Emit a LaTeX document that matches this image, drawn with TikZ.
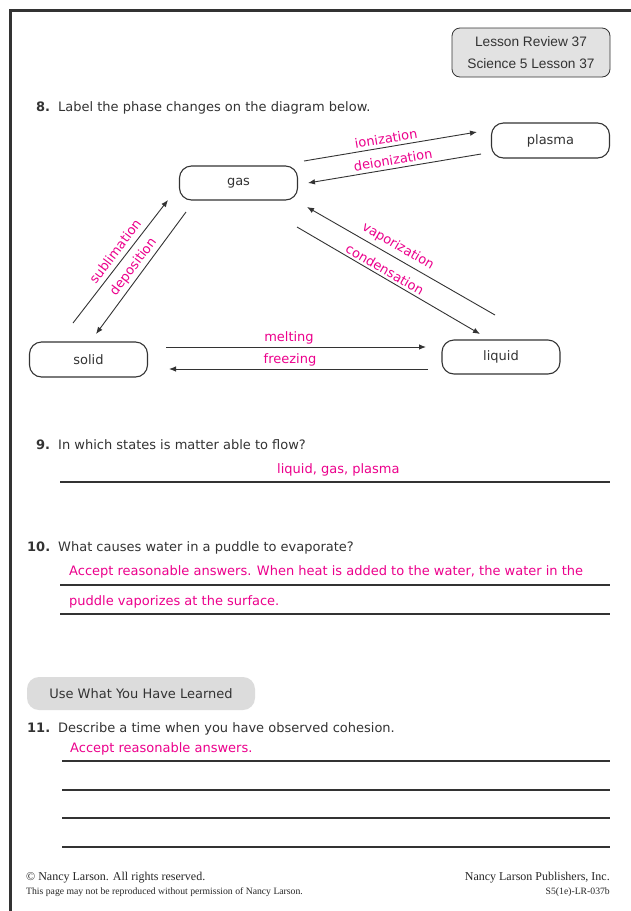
\documentclass[tikz,border=0pt]{standalone}
\usepackage{fontspec}
\setmainfont{DejaVu Sans}
\newfontfamily\arialf{Liberation Sans}
\newfontfamily\timesf{Liberation Serif}
\usetikzlibrary{arrows.meta}
\definecolor{ink}{HTML}{333333}
\definecolor{pinkans}{HTML}{EC008C}
\definecolor{boxgray}{HTML}{E2E2E2}
\definecolor{pillgray}{HTML}{DCDCDC}
\newcommand{\bodyfont}{\fontsize{13}{15}\selectfont}
\begin{document}
\begin{tikzpicture}[x=1pt,y=-1pt,
  state/.style={draw=ink, line width=1.1pt, rounded corners=12pt, minimum width=118pt, minimum height=34pt, text=ink, font=\bodyfont, inner sep=0pt},
  lbl/.style={text=pinkans, font=\bodyfont, inner sep=0pt},
  txt/.style={text=ink, font=\bodyfont, anchor=mid west, inner sep=0pt},
  num/.style={text=ink, font=\bodyfont\bfseries, anchor=mid west, inner sep=0pt},
  ans/.style={text=pinkans, font=\bodyfont, anchor=mid west, inner sep=0pt},
  rule/.style={draw=ink, line width=1.2pt},
  conn/.style={draw=ink, line width=0.9pt, -{Latex[length=7pt,width=5.5pt]}},
  foot/.style={text=black!85, inner sep=0pt},
]
\useasboundingbox (0,0) rectangle (630,911);
\fill[white] (0,0) rectangle (630,911);

% page frame
\draw[ink, line width=3pt] (10,911) -- (10,10) -- (631,10);

% header box
\node[draw=ink, line width=0.8pt, fill=boxgray, rounded corners=8pt, minimum width=158pt, minimum height=49pt, align=center, inner sep=0pt, font=\arialf\fontsize{13.7}{22}\selectfont, text=ink] (hdr) at (531,52.5) {Lesson Review 37\\Science 5 Lesson 37};

% question 8
\node[num] (n8) at (36,109) {8.};
\node[txt] (q8) at (58,109) {Label the phase changes on the diagram below.};

% states
\node[state, minimum height=35pt] (plasma) at (550.5,140.5) {plasma};
\node[state] (gas) at (238.5,183) {gas};
\node[state, minimum height=35pt] (solid) at (88.5,359.5) {solid};
\node[state] (liquid) at (501,357) {liquid};

% connector endpoints
\coordinate (ionA) at (304,161);   \coordinate (ionB) at (477,132);
\coordinate (deiA) at (481,154);   \coordinate (deiB) at (308,183);
\coordinate (subA) at (73,323);    \coordinate (subB) at (168,200);
\coordinate (depA) at (186,212);   \coordinate (depB) at (96,334);
\coordinate (vapA) at (495,315);   \coordinate (vapB) at (307,207);
\coordinate (conA) at (297,227);   \coordinate (conB) at (480,334);
\coordinate (melA) at (166,347);   \coordinate (melB) at (426,347);
\coordinate (freA) at (428,369);   \coordinate (freB) at (169,369);

\draw[conn] (ionA) -- (ionB);
\draw[conn] (deiA) -- (deiB);
\draw[conn] (subA) -- (subB);
\draw[conn] (depA) -- (depB);
\draw[conn] (vapA) -- (vapB);
\draw[conn] (conA) -- (conB);
\draw[conn] (melA) -- (melB);
\draw[conn] (freA) -- (freB);

% labels
\node[lbl, rotate=9.5] (lion) at (386,138.5) {ionization};
\node[lbl, rotate=9.5] (ldei) at (393,160) {deionization};
\node[lbl, rotate=53] (lsub) at (115,251.5) {sublimation};
\node[lbl, rotate=53] (ldep) at (133.5,267) {deposition};
\node[lbl, rotate=-30] (lvap) at (398,246.5) {vaporization};
\node[lbl, rotate=-30] (lcon) at (385,269.5) {condensation};
\node[lbl] (lmel) at (289,338) {melting};
\node[lbl] (lfre) at (290,360) {freezing};

% question 9
\node[num] (n9) at (36,447) {9.};
\node[txt] (q9) at (58,447) {In which states is matter able to flow?};
\node[ans] (a9) at (277,471) {liquid, gas, plasma};
\coordinate (r9a) at (60,482); \coordinate (r9b) at (610,482);
\draw[rule] (r9a) -- (r9b);

% question 10
\node[num] (n10) at (27,549) {10.};
\node[txt] (q10) at (58,549) {What causes water in a puddle to evaporate?};
\node[ans] (a10a) at (69,573) {Accept reasonable answers. When heat is added to the water, the water in the};
\node[ans] (a10b) at (69,603) {puddle vaporizes at the surface.};
\coordinate (r10a) at (60,585); \coordinate (r10b) at (610,585);
\coordinate (r10c) at (60,614); \coordinate (r10d) at (610,614);
\draw[rule] (r10a) -- (r10b);
\draw[rule] (r10c) -- (r10d);

% use what you have learned
\node[fill=pillgray, rounded corners=12pt, minimum width=228pt, minimum height=33pt, inner sep=0pt, text=ink, font=\bodyfont] (pill) at (141,693.5) {Use What You Have Learned};

% question 11
\node[num] (n11) at (27,730) {11.};
\node[txt] (q11) at (58,730) {Describe a time when you have observed cohesion.};
\node[ans] (a11) at (70,750) {Accept reasonable answers.};
\foreach \yy/\nm in {761/a,790/b,818/c,847/d}{
  \coordinate (r11\nm L) at (62,\yy); \coordinate (r11\nm R) at (610,\yy);
  \draw[rule] (r11\nm L) -- (r11\nm R);
}

% footer
\node[foot, anchor=mid west, font=\timesf\fontsize{12}{14}\selectfont] (f1) at (26,878) {© Nancy Larson. All rights reserved.};
\node[foot, anchor=mid west, font=\timesf\fontsize{9.7}{11}\selectfont] (f2) at (26,892) {This page may not be reproduced without permission of Nancy Larson.};
\node[foot, anchor=mid east, font=\timesf\fontsize{12}{14}\selectfont] (f3) at (610,878) {Nancy Larson Publishers, Inc.};
\node[foot, anchor=mid east, font=\timesf\fontsize{9.7}{11}\selectfont] (f4) at (610,892) {S5(1e)-LR-037b};
\end{tikzpicture}
\end{document}
